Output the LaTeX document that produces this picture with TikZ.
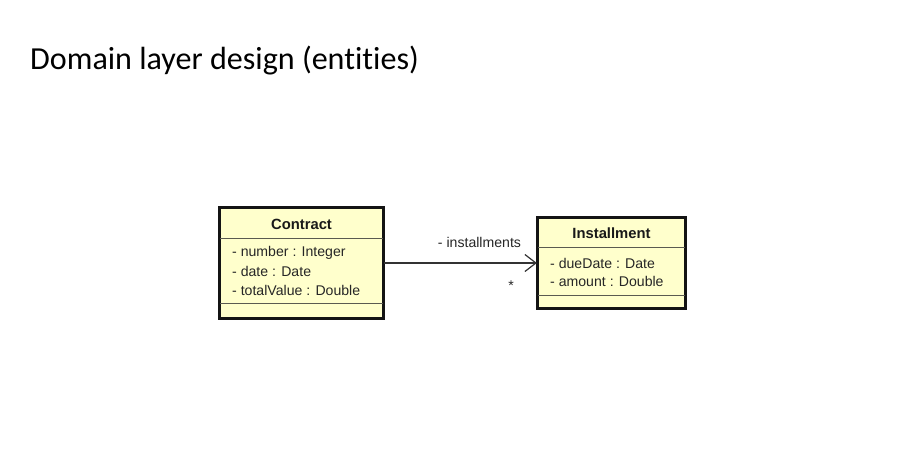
\documentclass[tikz,border=0pt]{standalone}
\usepackage{fontspec}
\setmainfont{Carlito}[Ligatures=NoCommon]
\newfontfamily\umlfont{Liberation Sans}
\usetikzlibrary{arrows.meta}
\definecolor{umlfill}{RGB}{255,255,204}
\definecolor{umlline}{RGB}{20,20,20}
\definecolor{divline}{RGB}{90,90,80}
\begin{document}
\begin{tikzpicture}[x=1pt,y=-1pt,
  classbox/.style={draw=umlline,fill=umlfill,line width=2.2pt,inner sep=0pt},
  divider/.style={draw=divline,line width=0.9pt},
  umltext/.style={font=\umlfont\fontsize{14.1}{16}\selectfont,inner sep=0pt,text=black!85},
  umlhead/.style={font=\umlfont\bfseries\fontsize{14.8}{16}\selectfont,inner sep=0pt,text=black!90},
  assoc/.style={draw=black!80,line width=1.1pt,-{Straight Barb[length=11pt,width=17pt,line width=1.2pt]}}
]
\useasboundingbox (0,0) rectangle (907,464);
\node[anchor=base west,inner sep=0pt,font=\fontsize{32.1}{35}\selectfont] (title) at (30,69) {Domain layer design (entities)};

% Contract
\node[classbox,minimum width=163pt,minimum height=110pt] (contract) at (301.5,263) {};
\coordinate (c1) at (220,238); \coordinate (c1e) at (383,238);
\coordinate (c2) at (220,303); \coordinate (c2e) at (383,303);
\draw[divider] (c1) -- (c1e);
\draw[divider] (c2) -- (c2e);
\draw[umlline,line width=2.2pt] (contract.north west) rectangle (contract.south east);
\node[umlhead] (contractname) at (301.5,224.5) {Contract};
\node[umltext,anchor=west] (ca1) at (232,253) {- number : Integer};
\node[umltext,anchor=west] (ca2) at (232,271.5) {- date : Date};
\node[umltext,anchor=west] (ca3) at (232,290) {- totalValue : Double};

% Installment
\node[classbox,minimum width=147pt,minimum height=90pt] (inst) at (611.5,263) {};
\coordinate (i1) at (538,247.5); \coordinate (i1e) at (685,247.5);
\coordinate (i2) at (538,295); \coordinate (i2e) at (685,295);
\draw[divider] (i1) -- (i1e);
\draw[divider] (i2) -- (i2e);
\draw[umlline,line width=2.2pt] (inst.north west) rectangle (inst.south east);
\node[umlhead] (instname) at (611.5,233.5) {Installment};
\node[umltext,anchor=west] (ia1) at (550,263) {- dueDate : Date};
\node[umltext,anchor=west] (ia2) at (550,281.5) {- amount : Double};

% association
\draw[assoc] (contract.east) -- (inst.west);
\node[umltext] (rolename) at (479.5,242) {- installments};
\node[umltext] (mult) at (511,286) {*};
\end{tikzpicture}
\end{document}
